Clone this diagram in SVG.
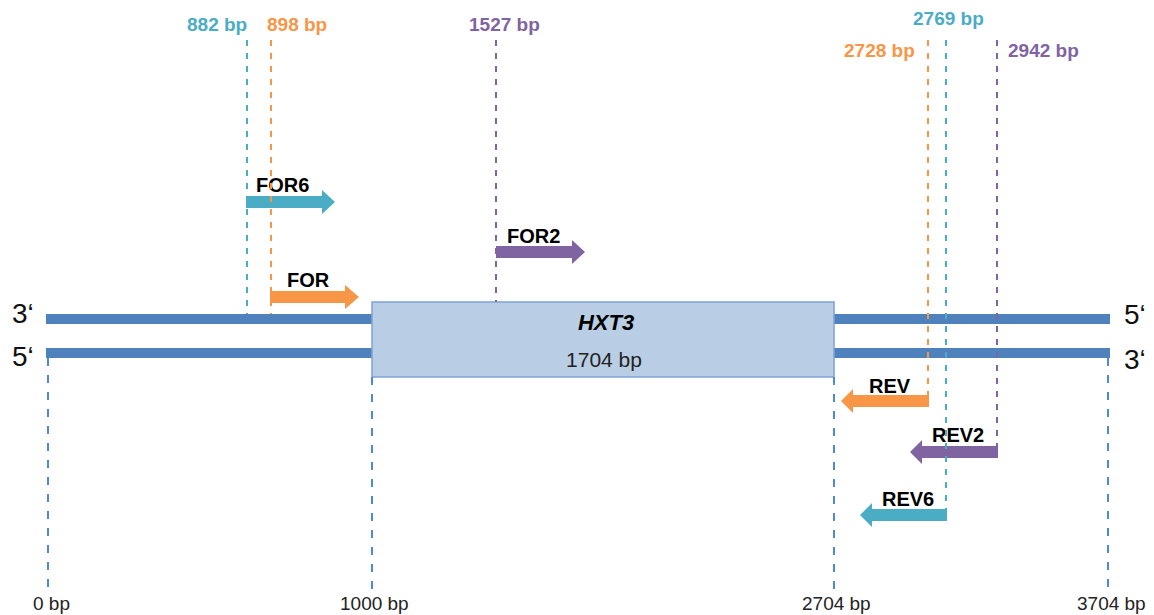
<svg xmlns="http://www.w3.org/2000/svg" width="1154" height="615" viewBox="0 0 1154 615">
<style>
.strand{fill:#4f81bd}
.box{fill:#b9cde5;stroke:#7ea2d6;stroke-width:1.5}
.cy{fill:#4bacc6}.or{fill:#f79646}.pu{fill:#8064a2}
.dl{stroke-width:2;stroke-dasharray:6 7;fill:none}
.dcy{stroke:#4bacc6}.dor{stroke:#f79646}.dpu{stroke:#8064a2}
.tick{stroke:#4f88d6;stroke-width:2;stroke-dasharray:8 9;fill:none}
.pos{font-family:"Liberation Sans",Arial,sans-serif;font-weight:bold;font-size:19px}
.lbl{font-family:"Liberation Sans",Arial,sans-serif;font-weight:bold;font-size:20px;fill:#000}
.bp{font-family:"Liberation Sans",Arial,sans-serif;font-size:19px;fill:#222}
.end{font-family:"Liberation Sans",Arial,sans-serif;font-size:28px;fill:#111}
</style>
<g id="strands">
<rect class="strand" x="46" y="314" width="1064" height="10"/>
<rect class="strand" x="46" y="348" width="1064" height="10"/>
</g>
<g id="hxt3">
<rect class="box" x="372" y="302" width="462" height="75"/>
<text x="606" y="330" text-anchor="middle" style="font-family:'Liberation Sans',Arial,sans-serif;font-weight:bold;font-style:italic;font-size:22px">HXT3</text>
<text x="604" y="367" text-anchor="middle" class="bp" style="font-size:21px">1704 bp</text>
</g>
<g id="ends">
<text class="end" x="12" y="323">3‘</text>
<text class="end" x="12" y="366">5‘</text>
<text class="end" x="1124" y="324">5‘</text>
<text class="end" x="1124" y="369">3‘</text>
</g>
<g id="primers">
<g id="FOR6"><polygon class="cy" points="246,196 322,196 322,190 335,202 322,214 322,208 246,208"/><text class="lbl" x="256" y="192">FOR6</text></g>
<g id="FOR"><polygon class="or" points="270,291 345,291 345,285 359,297 345,309 345,303 270,303"/><text class="lbl" x="287" y="287">FOR</text></g>
<g id="FOR2"><polygon class="pu" points="496,246 572,246 572,240 585,252 572,264 572,258 496,258"/><text class="lbl" x="507" y="243">FOR2</text></g>
<g id="REV"><polygon class="or" points="929,395 853,395 853,389 841,401 853,413 853,407 929,407"/><text class="lbl" x="869" y="393">REV</text></g>
<g id="REV2"><polygon class="pu" points="998,446 922,446 922,440 910,452 922,464 922,458 998,458"/><text class="lbl" x="932" y="442">REV2</text></g>
<g id="REV6"><polygon class="cy" points="947,509 872,509 872,503 860,515 872,527 872,521 947,521"/><text class="lbl" x="882" y="506">REV6</text></g>
</g>
<g id="connectors">
<line class="dl dcy" x1="247" y1="40" x2="247" y2="314"/>
<line class="dl dor" x1="271" y1="40" x2="271" y2="314"/>
<line class="dl dpu" x1="496" y1="40" x2="496" y2="302"/>
<line class="dl dor" x1="928" y1="40" x2="928" y2="395"/>
<line class="dl dcy" x1="946" y1="40" x2="946" y2="509"/>
<line class="dl dpu" x1="997" y1="40" x2="997" y2="446"/>
<line class="tick" x1="48" y1="358" x2="48" y2="590"/>
<line class="tick" x1="372" y1="377" x2="372" y2="590"/>
<line class="tick" x1="834" y1="377" x2="834" y2="590"/>
<line class="tick" x1="1108" y1="358" x2="1108" y2="590"/>
</g>
<g id="positions">
<text class="pos" x="187" y="31" fill="#4bacc6">882 bp</text>
<text class="pos" x="267" y="31" fill="#f79646">898 bp</text>
<text class="pos" x="469" y="31" fill="#8064a2">1527 bp</text>
<text class="pos" x="913" y="25" fill="#4bacc6">2769 bp</text>
<text class="pos" x="844" y="57" fill="#f79646">2728 bp</text>
<text class="pos" x="1008" y="57" fill="#8064a2">2942 bp</text>
</g>
<g id="scale">
<text class="bp" x="33" y="610">0 bp</text>
<text class="bp" x="340" y="610">1000 bp</text>
<text class="bp" x="802" y="610">2704 bp</text>
<text class="bp" x="1077" y="610">3704 bp</text>
</g>
</svg>
